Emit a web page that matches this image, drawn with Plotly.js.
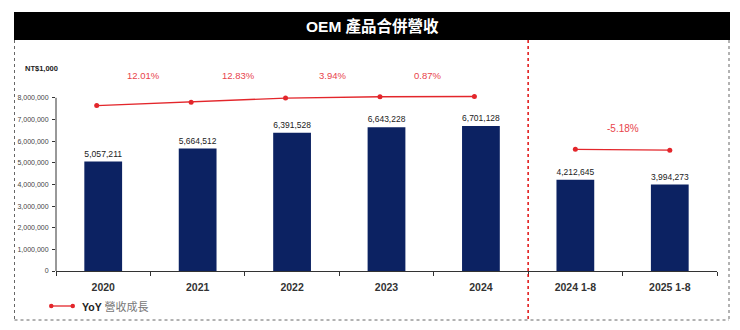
<!DOCTYPE html>
<html>
<head>
<meta charset="utf-8">
<script src="https://cdn.plot.ly/plotly-3.0.1.min.js"></script>
<style>html,body{margin:0;padding:0;background:#fff;}#chart{width:740px;height:330px;}</style>
</head>
<body>
<div id="chart"></div>
<script>
// ---- data ----
const categories = ["2020", "2021", "2022", "2023", "2024", "2024 1-8", "2025 1-8"];
const revenue = [5057211, 5664512, 6391528, 6643228, 6701128, 4212645, 3994273];
const annualCats = ["2020", "2021", "2022", "2023", "2024"];
const annualLineLevel = [7640000, 7800000, 7990000, 8050000, 8060000];
const ytdCats = ["2024 1-8", "2025 1-8"];
const ytdLineLevel = [5620000, 5580000];
const annualYoY = ["12.01%", "12.83%", "3.94%", "0.87%"];
const ytdYoY = ["-5.18%"];
const yTickVals = [0, 1000000, 2000000, 3000000, 4000000, 5000000, 6000000, 7000000, 8000000];
const titleText = "OEM 產品合併營收";
const unitText = "NT$1,000";
const legendText = '<b>YoY</b> <span style="color:#777;font-size:11px">營收成長</span>';

// ---- layout geometry ----
const W = 740, H = 330;
const M = {l: 56, r: 23, t: 87, b: 59};
const PW = W - M.l - M.r, PH = H - M.t - M.b;
const px = x => (x - M.l) / PW;
const py = y => (H - M.b - y) / PH;
const FONT = "Arial, 'Liberation Sans', 'Noto Sans CJK TC', sans-serif";
const RED = "#e3262b";
const fmt = v => v.toLocaleString("en-US");

const traces = [
  {
    type: "bar", x: categories, y: revenue,
    marker: {color: "#0c2262"},
    text: revenue.map(fmt), textposition: "outside", cliponaxis: false,
    textfont: {family: FONT, size: 9.5, color: "#222"},
    hoverinfo: "x+y", showlegend: false
  },
  {
    type: "scatter", mode: "lines+markers", x: annualCats, y: annualLineLevel,
    xaxis: "x2", yaxis: "y",
    line: {color: RED, width: 1.3}, marker: {color: RED, size: 5},
    cliponaxis: false, showlegend: false
  },
  {
    type: "scatter", mode: "lines+markers", x: ytdCats, y: ytdLineLevel,
    line: {color: RED, width: 1.3}, marker: {color: RED, size: 5},
    cliponaxis: false, showlegend: false
  }
];

const annotations = [];
const annualMax = Math.max(...annualLineLevel);
annualYoY.forEach((t, i) => annotations.push({
  xref: "x2", yref: "y", x: i + 0.5, y: annualMax, yshift: 21,
  text: t, showarrow: false, font: {family: FONT, size: 9.5, color: "#e8444b"}
}));
const ytdMax = Math.max(...ytdLineLevel);
ytdYoY.forEach((t, i) => annotations.push({
  xref: "x", yref: "y", x: categories.indexOf(ytdCats[0]) + i + 0.5, y: ytdMax, yshift: 21,
  text: t, showarrow: false, font: {family: FONT, size: 10, color: "#e8444b"}
}));
annotations.push({
  xref: "paper", yref: "paper", x: px(372), y: py(26), xanchor: "center", yanchor: "middle",
  text: "<b>" + titleText + "</b>", showarrow: false,
  font: {family: FONT, size: 15.5, color: "#fff"}
});
annotations.push({
  xref: "paper", yref: "paper", x: px(23), y: py(68), xanchor: "left", yanchor: "middle",
  text: unitText, showarrow: false, font: {family: FONT, size: 7.5, color: "#222", weight: "bold"}
});
annotations.push({
  xref: "paper", yref: "paper", x: px(80), y: py(306), xanchor: "left", yanchor: "middle",
  text: legendText, showarrow: false, font: {family: FONT, size: 10.5, color: "#222"}
});

const shapes = [
  {type: "rect", xref: "paper", yref: "paper", x0: px(14), x1: px(730), y0: py(40), y1: py(12),
   fillcolor: "#000", line: {width: 0}, layer: "below"},
  {type: "line", xref: "paper", yref: "paper", x0: px(14.5), x1: px(14.5), y0: py(40), y1: py(320),
   line: {color: "#666", width: 1, dash: "dot"}},
  {type: "line", xref: "paper", yref: "paper", x0: px(14.5), x1: px(729), y0: py(320), y1: py(320),
   line: {color: "#666", width: 1, dash: "dot"}},
  {type: "line", xref: "paper", yref: "paper", x0: px(729), x1: px(729), y0: py(40), y1: py(320),
   line: {color: "#666", width: 1, dash: "dot"}},
  {type: "line", xref: "x", yref: "paper", x0: 4.5, x1: 4.5, y0: py(40), y1: py(320),
   line: {color: "#e01010", width: 1.5, dash: "dot"}},
  {type: "line", xref: "paper", yref: "y", x0: 0, x1: 0, y0: 0, y1: yTickVals[yTickVals.length - 1],
   line: {color: "#333", width: 1}},
  {type: "line", xref: "paper", yref: "paper", x0: px(51), x1: px(73), y0: py(306), y1: py(306),
   line: {color: RED, width: 1.3}},
  {type: "circle", xref: "paper", yref: "paper", x0: px(49), x1: px(53.5), y0: py(303.8), y1: py(308.3),
   fillcolor: RED, line: {width: 0}},
  {type: "circle", xref: "paper", yref: "paper", x0: px(70.5), x1: px(75), y0: py(303.8), y1: py(308.3),
   fillcolor: RED, line: {width: 0}}
];

const layout = {
  width: W, height: H, margin: M,
  paper_bgcolor: "#fff", plot_bgcolor: "#fff",
  font: {family: FONT, color: "#222"},
  bargap: 0.6, showlegend: false,
  xaxis: {
    type: "category", categoryorder: "array", categoryarray: categories,
    range: [-0.5, categories.length - 0.5],
    showline: true, linecolor: "#333", linewidth: 1,
    ticks: "outside", tickson: "boundaries", ticklen: 4, tickcolor: "#333",
    ticklabelstandoff: 6,
    tickfont: {family: FONT, size: 10.5, color: "#333", weight: "bold"},
    showgrid: false, zeroline: false, automargin: false, fixedrange: true
  },
  xaxis2: {
    type: "category", categoryorder: "array", categoryarray: categories,
    overlaying: "x", visible: false,
    range: [-0.5 + 0.069, categories.length - 0.5 + 0.069]
  },
  yaxis: {
    range: [0, 8500000], tickvals: yTickVals, ticktext: yTickVals.map(fmt),
    ticks: "outside", ticklen: 3, tickcolor: "#333", ticklabelstandoff: 2,
    tickfont: {family: FONT, size: 7, color: "#444"},
    showline: false, showgrid: false, zeroline: false, automargin: false, fixedrange: true
  },
  annotations: annotations,
  shapes: shapes
};

Plotly.newPlot("chart", traces, layout, {displayModeBar: false, staticPlot: true});
</script>
</body>
</html>
